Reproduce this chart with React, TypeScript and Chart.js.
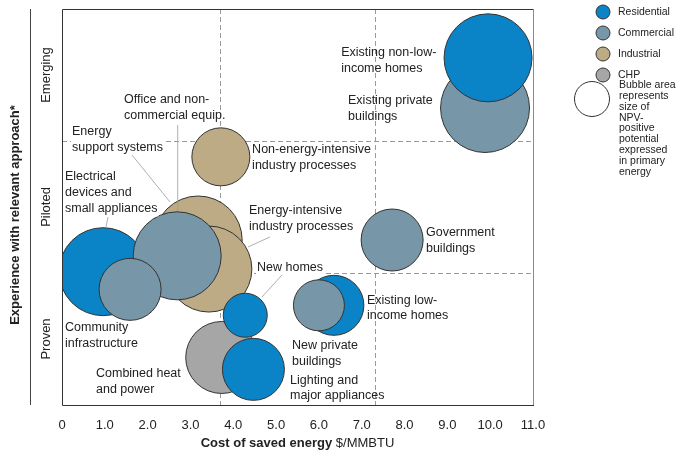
import React, { useEffect, useRef } from "react";
import { Chart, registerables } from "chart.js";

Chart.register(...registerables);

// ---------- data ----------
const sectors = ["Residential", "Commercial", "Industrial", "CHP"];
const sectorColors = ["#0a84c6", "#7796a8", "#bcab85", "#a6a6a6"];

// listed in drawing order (later items drawn on top)
const approaches = [
  "Electrical devices and small appliances",
  "Energy support systems",
  "Energy-intensive industry processes",
  "Office and non-commercial equip.",
  "Community infrastructure",
  "Non-energy-intensive industry processes",
  "Combined heat and power",
  "New homes",
  "Lighting and major appliances",
  "Existing low-income homes",
  "New private buildings",
  "Government buildings",
  "Existing private buildings",
  "Existing non-low-income homes",
];
const approachSector = [
  "Residential",
  "Industrial",
  "Industrial",
  "Commercial",
  "Commercial",
  "Industrial",
  "CHP",
  "Residential",
  "Residential",
  "Residential",
  "Commercial",
  "Commercial",
  "Commercial",
  "Residential",
];
// cost of saved energy, $/MMBTU
const costOfSavedEnergy = [0.96, 3.18, 3.43, 2.69, 1.59, 3.71, 3.73, 4.28, 4.47, 6.35, 6.0, 7.71, 9.88, 9.95];
// experience with relevant approach (0-1 proven, 1-2 piloted, 2-3 emerging)
const experienceLevel = [1.01, 1.25, 1.03, 1.13, 0.876, 1.88, 0.36, 0.68, 0.27, 0.755, 0.755, 1.25, 2.25, 2.63];
// bubble radius representing NPV-positive potential
const potentialRadius = [44, 44, 43, 44, 31, 29, 36, 22, 31, 30, 25.5, 31, 44.5, 44];

const experienceLabels = ["Proven", "Piloted", "Emerging"];
const costThresholds = [3.7, 7.3];
const experienceBoundaries = [1, 2];
const xMin = 0;
const xMax = 11;

// annotation labels: text lines + anchor (data coords, top line centre-left)
const labelLines = [
  ["Existing non-low-", "income homes"],
  ["Existing private", "buildings"],
  ["Government", "buildings"],
  ["Non-energy-intensive", "industry processes"],
  ["Office and non-", "commercial equip."],
  ["Energy", "support systems"],
  ["Electrical", "devices and", "small appliances"],
  ["Energy-intensive", "industry processes"],
  ["New homes"],
  ["Existing low-", "income homes"],
  ["New private", "buildings"],
  ["Lighting and", "major appliances"],
  ["Community", "infrastructure"],
  ["Combined heat", "and power"],
];
const labelX = [6.52, 6.68, 8.5, 4.44, 1.448, 0.234, 0.07, 4.367, 4.554, 7.123, 5.372, 5.325, 0.07, 0.794];
const labelY = [2.667, 2.303, 1.303, 1.932, 2.311, 2.068, 1.727, 1.47, 1.045, 0.795, 0.447, 0.189, 0.583, 0.235];
const labelWhiteBg = [false, false, false, false, false, true, true, false, true, false, false, false, false, false];

// leader lines [x1, y1, x2, y2] in data coords
const leaderLines = [
  [1.635, 1.894, 2.522, 1.538],
  [2.702, 2.121, 2.702, 1.47],
  [1.074, 1.424, 1.028, 1.348],
  [4.858, 1.273, 4.344, 1.197],
  [5.138, 0.985, 4.671, 0.818],
];

const legendNote = ["Bubble area", "represents", "size of", "NPV-", "positive", "potential", "expressed", "in primary", "energy"];

const FONT = '"Liberation Sans", Arial, Helvetica, sans-serif';
const TEXT = "#222";

const overlayPlugin = {
  id: "overlay",
  beforeDatasetsDraw(chart: any) {
    const { ctx, chartArea: a, scales } = chart;
    const x = scales.x;
    const y = scales.y;
    ctx.save();
    ctx.setLineDash([5, 3]);
    ctx.strokeStyle = "#9a9a9a";
    ctx.lineWidth = 1;
    costThresholds.forEach((v) => {
      const px = Math.round(x.getPixelForValue(v)) + 0.5;
      ctx.beginPath();
      ctx.moveTo(px, a.top);
      ctx.lineTo(px, a.bottom);
      ctx.stroke();
    });
    experienceBoundaries.forEach((v) => {
      const py = Math.round(y.getPixelForValue(v)) + 0.5;
      ctx.beginPath();
      ctx.moveTo(a.left, py);
      ctx.lineTo(a.right, py);
      ctx.stroke();
    });
    ctx.restore();
  },
  afterDatasetsDraw(chart: any) {
    const { ctx, chartArea: a, scales } = chart;
    const x = scales.x;
    const y = scales.y;
    ctx.save();

    // plot border
    ctx.setLineDash([]);
    ctx.lineWidth = 1;
    ctx.strokeStyle = "#8a8a8a";
    ctx.beginPath();
    ctx.moveTo(Math.round(a.right) + 0.5, a.top);
    ctx.lineTo(Math.round(a.right) + 0.5, a.bottom);
    ctx.stroke();
    ctx.strokeStyle = "#333";
    ctx.beginPath();
    ctx.moveTo(a.right, Math.round(a.top) + 0.5);
    ctx.lineTo(Math.round(a.left) + 0.5, Math.round(a.top) + 0.5);
    ctx.lineTo(Math.round(a.left) + 0.5, Math.round(a.bottom) + 0.5);
    ctx.lineTo(a.right + 1, Math.round(a.bottom) + 0.5);
    ctx.stroke();

    // annotation label backgrounds (per line)
    const lh = 15.7;
    ctx.font = `12.5px ${FONT}`;
    ctx.textBaseline = "middle";
    ctx.textAlign = "left";
    labelLines.forEach((lines, i) => {
      if (!labelWhiteBg[i]) return;
      const px = x.getPixelForValue(labelX[i]);
      const py = y.getPixelForValue(labelY[i]);
      ctx.fillStyle = "#fff";
      lines.forEach((l, j) => {
        const w = ctx.measureText(l).width;
        ctx.fillRect(px - 1, py + j * lh - 8, w + 2, 16);
      });
    });

    // leader lines
    ctx.strokeStyle = "#9a9a9a";
    ctx.lineWidth = 0.8;
    leaderLines.forEach(([x1, y1, x2, y2]) => {
      ctx.beginPath();
      ctx.moveTo(x.getPixelForValue(x1), y.getPixelForValue(y1));
      ctx.lineTo(x.getPixelForValue(x2), y.getPixelForValue(y2));
      ctx.stroke();
    });

    // annotation labels
    ctx.fillStyle = TEXT;
    labelLines.forEach((lines, i) => {
      const px = x.getPixelForValue(labelX[i]);
      const py = y.getPixelForValue(labelY[i]);
      lines.forEach((l, j) => ctx.fillText(l, px, py + j * lh));
    });

    // x tick labels
    ctx.font = `13px ${FONT}`;
    ctx.textAlign = "center";
    const ticks = x.ticks && x.ticks.length ? x.ticks.map((t: any) => t.value) : [];
    ticks.forEach((v: number) => {
      const label = v === 0 ? "0" : v.toFixed(1);
      ctx.fillText(label, x.getPixelForValue(v), a.bottom + 20);
    });

    // x title (bold + regular)
    const bold = "Cost of saved energy";
    const reg = " $/MMBTU";
    ctx.font = `bold 13px ${FONT}`;
    const wb = ctx.measureText(bold).width;
    ctx.font = `13px ${FONT}`;
    const wr = ctx.measureText(reg).width;
    const cx = (a.left + a.right) / 2;
    const startX = cx - (wb + wr) / 2;
    ctx.textAlign = "left";
    ctx.font = `bold 13px ${FONT}`;
    ctx.fillText(bold, startX, a.bottom + 38);
    ctx.font = `13px ${FONT}`;
    ctx.fillText(reg, startX + wb, a.bottom + 38);

    // y category labels
    ctx.font = `13px ${FONT}`;
    ctx.textAlign = "center";
    experienceLabels.forEach((lab, i) => {
      ctx.save();
      ctx.translate(a.left - 16, y.getPixelForValue(i + 0.5));
      ctx.rotate(-Math.PI / 2);
      ctx.fillText(lab, 0, 0);
      ctx.restore();
    });

    // y axis separator line
    ctx.strokeStyle = "#444";
    ctx.lineWidth = 1;
    ctx.beginPath();
    ctx.moveTo(30.5, a.top);
    ctx.lineTo(30.5, a.bottom);
    ctx.stroke();

    // y title
    ctx.save();
    ctx.font = `bold 13px ${FONT}`;
    ctx.translate(15, (a.top + a.bottom) / 2 + 8);
    ctx.rotate(-Math.PI / 2);
    ctx.fillText("Experience with relevant approach*", 0, 0);
    ctx.restore();

    // legend
    const lx = a.right + 70;
    ctx.font = `10.5px ${FONT}`;
    ctx.textAlign = "left";
    sectors.forEach((s, i) => {
      const ly = 12 + i * 21;
      ctx.beginPath();
      ctx.arc(lx, ly, 7, 0, Math.PI * 2);
      ctx.fillStyle = sectorColors[i];
      ctx.fill();
      ctx.strokeStyle = "#333";
      ctx.lineWidth = 1;
      ctx.stroke();
      ctx.fillStyle = TEXT;
      ctx.fillText(s, lx + 15, ly);
    });
    ctx.beginPath();
    ctx.arc(a.right + 59, 99, 17.5, 0, Math.PI * 2);
    ctx.strokeStyle = "#333";
    ctx.stroke();
    ctx.fillStyle = TEXT;
    legendNote.forEach((l, i) => ctx.fillText(l, a.right + 86, 85 + i * 10.9));

    ctx.restore();
  },
};

export default function App() {
  const ref = useRef<HTMLCanvasElement | null>(null);
  useEffect(() => {
    if (!ref.current) return;
    const points = approaches.map((_, i) => ({
      x: costOfSavedEnergy[i],
      y: experienceLevel[i],
      r: potentialRadius[i],
    }));
    const colors = approachSector.map((s) => sectorColors[sectors.indexOf(s)]);
    const chart = new Chart(ref.current, {
      type: "bubble",
      data: {
        datasets: [
          {
            label: "Approaches",
            data: points,
            backgroundColor: colors,
            borderColor: "#333",
            borderWidth: 1,
            hoverBorderWidth: 1,
            clip: 0,
          } as any,
        ],
      },
      options: {
        responsive: false,
        animation: false,
        events: [],
        layout: { autoPadding: false, padding: { left: 62, right: 148, top: 9, bottom: 56 } },
        scales: {
          x: { type: "linear", min: xMin, max: xMax, display: false, ticks: { stepSize: 1 } },
          y: { type: "linear", min: 0, max: experienceLabels.length, display: false },
        },
        plugins: { legend: { display: false }, tooltip: { enabled: false } },
      } as any,
      plugins: [overlayPlugin],
    });
    return () => chart.destroy();
  }, []);
  return (
    <canvas
      ref={ref}
      width={681}
      height={461}
      style={{ position: "absolute", left: 0, top: 0, width: 681, height: 461, display: "block" }}
    />
  );
}
